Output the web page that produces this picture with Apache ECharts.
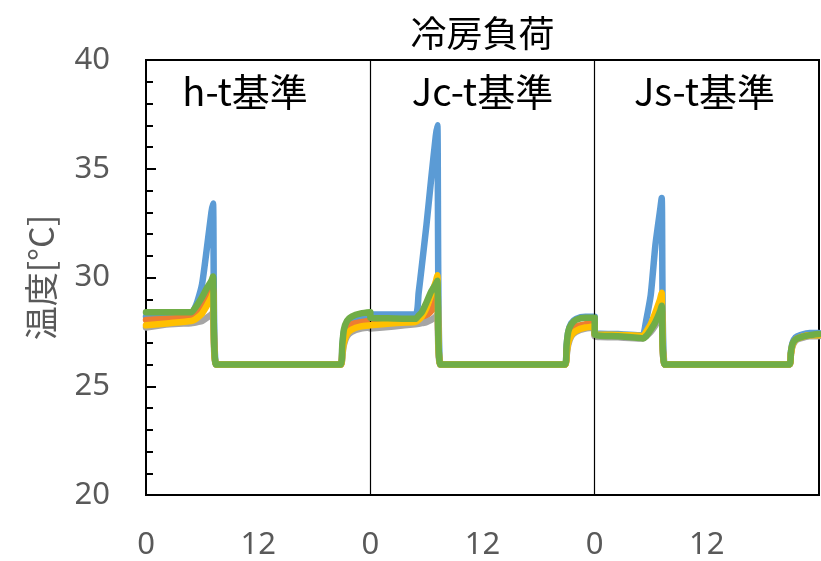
<!DOCTYPE html>
<html>
<head>
<meta charset="utf-8">
<script src="https://cdn.jsdelivr.net/npm/echarts@6/dist/echarts.min.js"></script>
<style>
  html, body { margin: 0; padding: 0; background: #fff; }
  #chart { width: 821px; height: 561px; }
</style>
</head>
<body>
<div id="chart"></div>
<script>
// Hour of day for each reading (same schedule for every case)
const hours = [0, 2.5, 4.83, 5.17, 5.5, 6, 6.5, 7, 7.17, 7.5, 12, 20.83, 21, 21.17, 21.5, 22, 23, 24];

// Cases shown side by side, one day each
const cases = ['h-t基準', 'Jc-t基準', 'Js-t基準'];

// Temperature [°C] per case (h-t, Jc-t, Js-t)
const tempBlue = [
  [28.2, 28.25, 28.3, 28.55, 28.9, 29.7, 31.3, 33.0, 33.4, 26, 26, 26, 26.8, 27.5, 27.9, 28.1, 28.2, 28.25],
  [28.3, 28.3, 28.3, 29.3, 30.5, 32.4, 34.5, 36.5, 37.0, 26, 26, 26, 26.9, 27.5, 27.9, 28.1, 28.2, 28.2],
  [27.45, 27.4, 27.35, 27.35, 28.0, 29.2, 31.5, 33.1, 33.65, 26, 26, 26, 26.6, 27.0, 27.25, 27.35, 27.45, 27.45]
];
const tempOrange = [
  [28.05, 28.1, 28.2, 28.3, 28.4, 28.65, 29.0, 29.35, 29.5, 26, 26, 26, 26.6, 27.2, 27.6, 27.85, 27.95, 28.0],
  [27.95, 28.0, 28.05, 28.1, 28.15, 28.25, 28.45, 29.0, 29.4, 26, 26, 26, 26.6, 27.1, 27.5, 27.75, 27.85, 27.9],
  [27.35, 27.3, 27.25, 27.25, 27.35, 27.6, 27.9, 28.3, 28.5, 26, 26, 26, 26.5, 26.9, 27.15, 27.25, 27.35, 27.35]
];
const tempGray = [
  [27.7, 27.85, 27.9, 27.92, 27.95, 28.0, 28.15, 28.3, 28.4, 26, 26, 26, 26.4, 26.9, 27.3, 27.5, 27.65, 27.7],
  [27.65, 27.75, 27.85, 27.87, 27.9, 27.95, 28.05, 28.2, 28.3, 26, 26, 26, 26.4, 26.9, 27.3, 27.5, 27.65, 27.7],
  [27.3, 27.25, 27.2, 27.2, 27.3, 27.5, 27.8, 28.2, 28.4, 26, 26, 26, 26.5, 26.85, 27.1, 27.2, 27.3, 27.3]
];
const tempYellow = [
  [27.8, 27.9, 28.0, 28.05, 28.15, 28.35, 28.7, 29.1, 29.3, 26, 26, 26, 26.5, 27.0, 27.4, 27.6, 27.75, 27.8],
  [27.8, 27.9, 27.95, 28.05, 28.2, 28.6, 29.2, 29.8, 30.1, 26, 26, 26, 26.5, 27.0, 27.35, 27.55, 27.7, 27.75],
  [27.4, 27.36, 27.32, 27.3, 27.5, 27.85, 28.4, 29.0, 29.3, 26, 26, 26, 26.5, 26.9, 27.15, 27.25, 27.35, 27.35]
];
const tempGreen = [
  [28.4, 28.4, 28.4, 28.55, 28.75, 29.1, 29.5, 29.85, 30.05, 26, 26, 26, 26.9, 27.6, 28.0, 28.2, 28.35, 28.4],
  [28.15, 28.12, 28.1, 28.25, 28.4, 28.85, 29.35, 29.7, 29.85, 26, 26, 26, 26.9, 27.5, 27.85, 28.05, 28.15, 28.15],
  [27.38, 27.3, 27.22, 27.2, 27.3, 27.6, 27.95, 28.45, 28.7, 26, 26, 26, 26.6, 26.95, 27.15, 27.25, 27.35, 27.4]
];

const yTicks = { min: 20, max: 40, step: 5 };
const xTickStep = 12;

const seriesDefs = [
  { values: tempBlue,   color: '#5B9BD5' },
  { values: tempOrange, color: '#ED7D31' },
  { values: tempGray,   color: '#A5A5A5' },
  { values: tempYellow, color: '#FFC000' },
  { values: tempGreen,  color: '#70AD47' }
];

// Lay the three days end to end on one continuous hour axis
function toPoints(perCase) {
  const pts = [];
  perCase.forEach((vals, d) => {
    vals.forEach((v, i) => pts.push([d * 24 + hours[i], v]));
  });
  return pts;
}

const labelGray = '#595959';
const latin = '"Noto Sans", "Noto Sans CJK JP", sans-serif';
const cjk = '"Noto Sans CJK JP", "Noto Sans", sans-serif';

const chart = echarts.init(document.getElementById('chart'), null, { renderer: 'canvas' });

const series = seriesDefs.map((s, idx) => ({
  type: 'line',
  data: toPoints(s.values),
  showSymbol: false,
  smooth: 0.2,
  lineStyle: { color: s.color, width: 6.5, cap: 'round', join: 'round' },
  itemStyle: { color: s.color },
  emphasis: { disabled: true },
  silent: true,
  z: 2 + idx
}));

// Day separators
series.push({
  type: 'line',
  data: [],
  silent: true,
  z: 10,
  markLine: {
    silent: true,
    symbol: 'none',
    label: { show: false },
    lineStyle: { color: '#000', width: 1.2, type: 'solid' },
    data: cases.slice(1).map((c, i) => ({ xAxis: (i + 1) * 24 }))
  }
});

chart.setOption({
  animation: false,
  backgroundColor: '#fff',
  grid: {
    left: 146, right: 2, top: 60, bottom: 63,
    show: true, borderColor: '#000', borderWidth: 2
  },
  xAxis: {
    type: 'value',
    min: 0, max: cases.length * 24,
    interval: xTickStep,
    axisLine: { show: true, lineStyle: { color: '#000', width: 2 } },
    axisTick: { show: false },
    splitLine: { show: false },
    axisLabel: {
      color: labelGray, fontSize: 31, fontFamily: latin, margin: 35,
      showMaxLabel: false,
      formatter: v => String(v % 24)
    }
  },
  yAxis: {
    type: 'value',
    min: yTicks.min, max: yTicks.max, interval: yTicks.step,
    name: '温度[°C]',
    nameLocation: 'middle',
    nameGap: 88,
    nameTextStyle: { color: labelGray, fontSize: 34, fontFamily: cjk },
    axisLine: { show: true, lineStyle: { color: '#000', width: 2 } },
    axisTick: { show: true, inside: true, length: 10, lineStyle: { color: '#000', width: 2 } },
    minorTick: { show: true, splitNumber: 5, length: 7, lineStyle: { color: '#000', width: 2 } },
    splitLine: { show: false },
    axisLabel: { color: labelGray, fontSize: 31, fontFamily: latin, margin: 36 }
  },
  series
});

// Title and per-case captions, anchored in data space
const toPx = p => chart.convertToPixel({ xAxisIndex: 0, yAxisIndex: 0 }, p);
const captionX = [10.6, 36, 59.75];
const graphics = cases.map((c, i) => {
  const [x, y] = toPx([captionX[i], 38.55]);
  return {
    type: 'text', x, y, silent: true,
    style: { text: c, fill: '#000', fontSize: 38, fontFamily: cjk, align: 'center', verticalAlign: 'middle' }
  };
});
const [tx] = toPx([36, 40]);
graphics.push({
  type: 'text', x: tx, y: 33, silent: true,
  style: { text: '冷房負荷', fill: '#000', fontSize: 36, fontFamily: cjk, align: 'center', verticalAlign: 'middle' }
});
chart.setOption({ graphic: graphics });
</script>
</body>
</html>
